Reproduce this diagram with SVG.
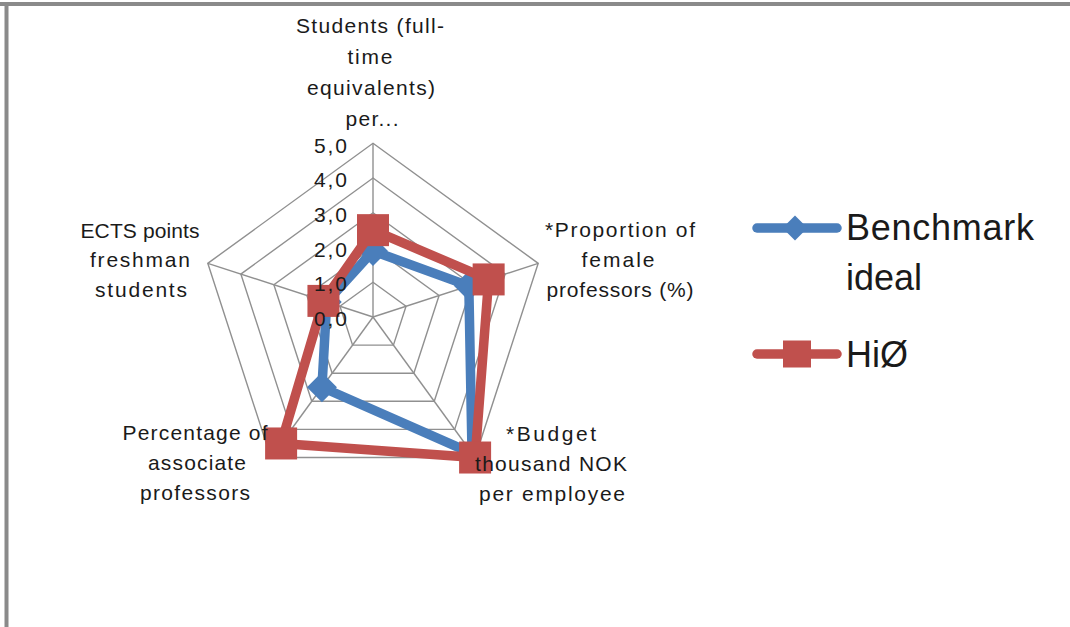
<svg xmlns="http://www.w3.org/2000/svg" width="1070" height="627" viewBox="0 0 1070 627">
  <style>
    .frame { stroke: #8a8a8a; stroke-width: 4; fill: none; }
    .grid { stroke: #909090; stroke-width: 1.4; fill: none; }
    .lbl { font-family: "Liberation Sans", Arial, sans-serif; font-size: 21px; fill: #1a1a1a; text-anchor: middle; }
    .tick { font-family: "Liberation Sans", Arial, sans-serif; font-size: 21px; fill: #1a1a1a; text-anchor: end; }
    .leg { font-family: "Liberation Sans", Arial, sans-serif; font-size: 36px; fill: #1a1a1a; }
    .bench { stroke: #4a7ebb; stroke-width: 9.5; fill: none; stroke-linejoin: round; stroke-linecap: round; }
    .hio { stroke: #c0504d; stroke-width: 9.5; fill: none; stroke-linejoin: round; stroke-linecap: round; }
    .bfill { fill: #4a7ebb; }
    .rfill { fill: #c0504d; }
  </style>
  <defs>
    <path id="diamond" d="M0,-15 L15,0 L0,15 L-15,0 Z"/>
    <rect id="square" x="-16" y="-16" width="32" height="32"/>
  </defs>

  <rect width="1070" height="627" fill="#ffffff"/>

  <!-- page frame -->
  <g id="frame">
    <line class="frame" x1="0" y1="4" x2="1070" y2="4"/>
    <line class="frame" x1="6.5" y1="2" x2="6.5" y2="627"/>
  </g>

  <!-- radar grid: five rings and five spokes around (373,317) -->
  <g id="grid">
    <polygon class="grid" points="373,282.26 406.04,306.27 393.42,345.11 352.58,345.11 339.96,306.27"/>
    <polygon class="grid" points="373,247.52 439.08,295.53 413.84,373.21 332.16,373.21 306.92,295.53"/>
    <polygon class="grid" points="373,212.78 472.12,284.8 434.26,401.31 311.74,401.31 273.88,284.8"/>
    <polygon class="grid" points="373,178.04 505.16,274.06 454.68,429.42 291.32,429.42 240.84,274.06"/>
    <polygon class="grid" points="373,143.3 538.21,263.33 475.1,457.52 270.9,457.52 207.79,263.33"/>
    <line class="grid" x1="373" y1="317" x2="373" y2="143.3"/>
    <line class="grid" x1="373" y1="317" x2="538.21" y2="263.33"/>
    <line class="grid" x1="373" y1="317" x2="475.1" y2="457.52"/>
    <line class="grid" x1="373" y1="317" x2="270.9" y2="457.52"/>
    <line class="grid" x1="373" y1="317" x2="207.79" y2="263.33"/>
  </g>

  <!-- data series -->
  <g id="series-benchmark">
    <polygon class="bench" points="373,251 468.82,285.87 472.04,453.31 321.95,387.26 326.74,301.97"/>
    <use href="#diamond" class="bfill" x="373" y="251"/>
    <use href="#diamond" class="bfill" x="468.82" y="285.87"/>
    <use href="#diamond" class="bfill" x="472.04" y="453.31"/>
    <use href="#diamond" class="bfill" x="321.95" y="387.26"/>
    <use href="#diamond" class="bfill" x="326.74" y="301.97"/>
  </g>
  <g id="series-hio">
    <polygon class="hio" points="373,230.15 488.64,279.43 475.1,457.52 281.11,443.47 323.44,300.9"/>
    <use href="#square" class="rfill" x="373" y="230.15"/>
    <use href="#square" class="rfill" x="488.64" y="279.43"/>
    <use href="#square" class="rfill" x="475.1" y="457.52"/>
    <use href="#square" class="rfill" x="281.11" y="443.47"/>
    <use href="#square" class="rfill" x="323.44" y="300.9"/>
  </g>

  <!-- value scale, printed over the series -->
  <g id="ticks">
    <text class="tick" x="347" y="152.5" textLength="33">5,0</text>
    <text class="tick" x="347" y="187" textLength="33">4,0</text>
    <text class="tick" x="347" y="222" textLength="33">3,0</text>
    <text class="tick" x="347" y="256.5" textLength="33">2,0</text>
    <text class="tick" x="347" y="291" textLength="33">1,0</text>
    <text class="tick" x="347" y="326" textLength="33">0,0</text>
  </g>

  <!-- axis captions -->
  <g id="axis-students">
    <text class="lbl" x="370" y="33" textLength="148">Students (full-</text>
    <text class="lbl" x="370" y="64" textLength="45">time</text>
    <text class="lbl" x="371" y="95" textLength="128">equivalents)</text>
    <text class="lbl" x="372" y="126" textLength="53">per...</text>
  </g>
  <g id="axis-female">
    <text class="lbl" x="620" y="237" textLength="150">*Proportion of</text>
    <text class="lbl" x="618" y="267" textLength="73">female</text>
    <text class="lbl" x="620" y="297" textLength="147">professors (%)</text>
  </g>
  <g id="axis-budget">
    <text class="lbl" x="551" y="441" textLength="90">*Budget</text>
    <text class="lbl" x="551" y="471" textLength="152">thousand NOK</text>
    <text class="lbl" x="552" y="501" textLength="146">per employee</text>
  </g>
  <g id="axis-associate">
    <text class="lbl" x="195" y="440" textLength="145">Percentage of</text>
    <text class="lbl" x="197" y="470" textLength="98">associate</text>
    <text class="lbl" x="195" y="500" textLength="110">professors</text>
  </g>
  <g id="axis-ects">
    <text class="lbl" x="140" y="238" textLength="119">ECTS points</text>
    <text class="lbl" x="140" y="267" textLength="100">freshman</text>
    <text class="lbl" x="141" y="297" textLength="92">students</text>
  </g>

  <!-- legend -->
  <g id="legend-benchmark">
    <line class="bench" x1="757" y1="228" x2="837" y2="228" stroke-width="8"/>
    <path class="bfill" d="M795,215.5 L807.5,228 L795,240.5 L782.5,228 Z"/>
    <text class="leg" x="846" y="240" textLength="188">Benchmark</text>
    <text class="leg" x="846" y="290">ideal</text>
  </g>
  <g id="legend-hio">
    <line class="hio" x1="757" y1="354" x2="837" y2="354" stroke-width="8"/>
    <rect class="rfill" x="783" y="340.5" width="28" height="27"/>
    <text class="leg" x="846" y="366.5">HiØ</text>
  </g>
</svg>
